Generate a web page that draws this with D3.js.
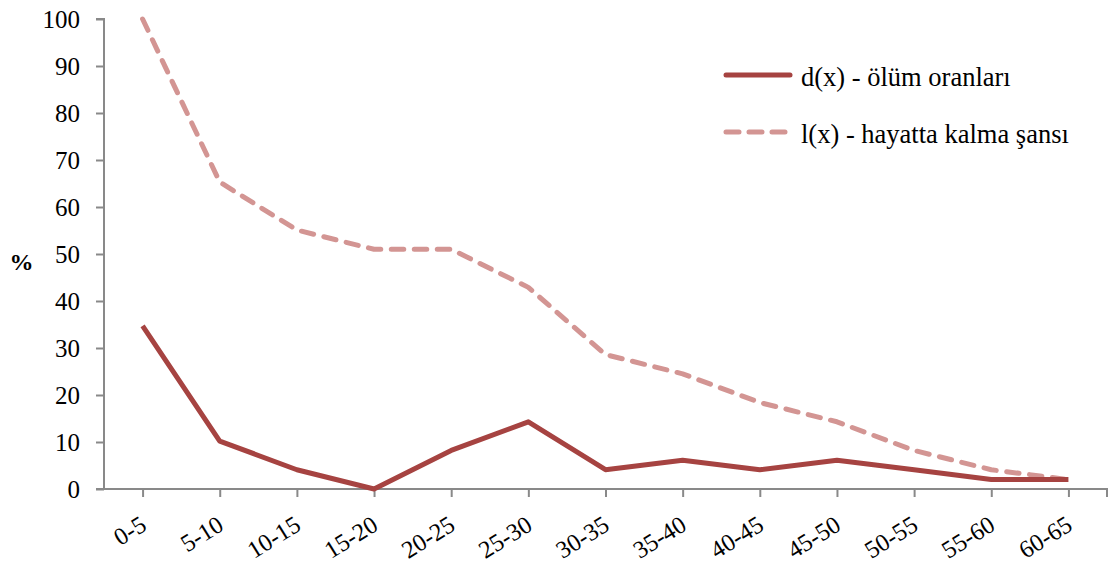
<!DOCTYPE html>
<html>
<head>
<meta charset="utf-8">
<script src="https://cdn.jsdelivr.net/npm/d3@7"></script>
<style>
  body { margin: 0; background: #fff; }
  svg { display: block; font-family: "Liberation Serif", "Times New Roman", serif; }
</style>
</head>
<body>
<svg id="chart" width="1112" height="563"></svg>
<script>
const categories = ["0-5","5-10","10-15","15-20","20-25","25-30","30-35","35-40","40-45","45-50","50-55","55-60","60-65"];
const deathRates = [34.7, 10.2, 4.1, 0, 8.2, 14.3, 4.1, 6.1, 4.1, 6.1, 4.1, 2.0, 2.0];
const survival = [100, 65.3, 55.1, 51.0, 51.0, 42.9, 28.6, 24.5, 18.4, 14.3, 8.2, 4.1, 2.0];
const yTicks = [0, 10, 20, 30, 40, 50, 60, 70, 80, 90, 100];
const seriesNames = ["d(x) - ölüm oranları", "l(x) - hayatta kalma şansı"];

const svg = d3.select("#chart");
const plotLeft = 104, plotRight = 1107, plotTop = 19, plotBottom = 489;
const axisColor = "#898989";
const solidColor = "#A64341";
const dashColor = "#D39593";
const fontFamily = "'Liberation Serif', 'Times New Roman', serif";

const x = d3.scalePoint().domain(categories).range([plotLeft, plotRight]).padding(0.5);
const y = d3.scaleLinear().domain([0, 100]).range([plotBottom, plotTop]);

// Y axis
const yAxis = svg.append("g").attr("transform", `translate(${plotLeft},0)`)
  .call(d3.axisLeft(y).tickValues(yTicks).tickSize(8).tickPadding(16));
yAxis.attr("font-family", null).attr("font-size", null);
yAxis.select(".domain").attr("stroke", axisColor).attr("stroke-width", 2).attr("d", `M-8,${plotTop}H0V${plotBottom}`);
yAxis.selectAll(".tick line").attr("stroke", axisColor).attr("stroke-width", 2);
yAxis.selectAll(".tick text").style("font-size", "25px").attr("fill", "#000")
  .style("font-family", fontFamily).attr("dy", "0.35em");

// X axis with slanted category labels
const xAxis = svg.append("g").attr("transform", `translate(0,${plotBottom})`)
  .call(d3.axisBottom(x).tickSize(8).tickPadding(10));
xAxis.attr("font-family", null).attr("font-size", null);
xAxis.select(".domain").attr("stroke", axisColor).attr("stroke-width", 2).attr("d", `M${plotLeft - 8},0H${plotRight}V8`);
xAxis.selectAll(".tick line").attr("stroke", axisColor).attr("stroke-width", 2);
xAxis.selectAll(".tick text")
  .style("font-size", "24.5px").attr("fill", "#000")
  .style("font-family", fontFamily)
  .attr("text-anchor", "end")
  .attr("x", 0).attr("y", 0).attr("dy", 0)
  .attr("transform", "translate(5,40) rotate(-32)");

// Axis title
svg.append("text").attr("x", 21.5).attr("y", 270).attr("text-anchor", "middle")
  .style("font-size", "24px").style("font-family", fontFamily)
  .attr("font-weight", "bold").text("%");

const line = d3.line().x((d, i) => x(categories[i])).y(d => y(d));

svg.append("path").datum(survival).attr("d", line)
  .attr("fill", "none").attr("stroke", dashColor).attr("stroke-width", 5)
  .attr("stroke-dasharray", "12.5,10.5").attr("stroke-linecap", "round")
  .attr("stroke-linejoin", "round");

svg.append("path").datum(deathRates).attr("d", line)
  .attr("fill", "none").attr("stroke", solidColor).attr("stroke-width", 5)
  .attr("stroke-linejoin", "round");

// Legend
const legend = svg.append("g");
const legendItems = [
  { name: seriesNames[0], color: solidColor, dash: null, yPos: 75 },
  { name: seriesNames[1], color: dashColor, dash: "13,10", yPos: 132 }
];
legendItems.forEach(item => {
  legend.append("line").attr("x1", 726).attr("x2", 790).attr("y1", item.yPos).attr("y2", item.yPos)
    .attr("stroke", item.color).attr("stroke-width", 5).attr("stroke-linecap", "round")
    .attr("stroke-dasharray", item.dash);
  legend.append("text").attr("x", 801).attr("y", item.yPos + 11)
    .style("font-size", "26.5px").style("font-family", fontFamily)
    .attr("fill", "#000").text(item.name);
});
</script>
</body>
</html>
